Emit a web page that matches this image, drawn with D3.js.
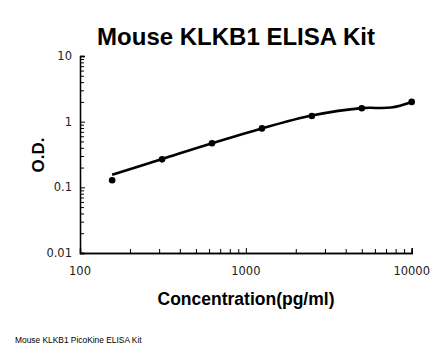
<!DOCTYPE html>
<html>
<head>
<meta charset="utf-8">
<script src="https://cdn.jsdelivr.net/npm/d3@7"></script>
<style>
html,body{margin:0;padding:0;background:#fff;}
svg{display:block;}
</style>
</head>
<body>
<svg id="chart" width="445" height="355"></svg>
<script>
// Data
const concentrations = [156.25, 312.5, 625, 1250, 2500, 5000, 10000];
const odValues = [0.128, 0.267, 0.469, 0.79, 1.22, 1.60, 2.0];
// fitted curve
const fitConc = [156.25, 312.5, 625, 1250, 2500, 5000, 7500, 10000];
const fitOD = [0.155, 0.27, 0.47, 0.79, 1.24, 1.61, 1.64, 2.0];
const xTickValues = [100, 1000, 10000];
const xTickLabels = ["100", "1000", "10000"];
const yTickValues = [0.01, 0.1, 1, 10];
const yTickLabels = ["0.01", "0.1", "1", "10"];

(function () {
const svg = d3.select("#chart");
const mLeft = 80, mRight = 411.7, mTop = 56, mBottom = 253;

const x = d3.scaleLog().domain([100, 10000]).range([mLeft, mRight]);
const y = d3.scaleLog().domain([0.01, 10]).range([mBottom, mTop]);

// minor tick values
const xMinor = [];
[100, 1000].forEach(d => { for (let k = 2; k <= 9; k++) xMinor.push(d * k); });
const yMinor = [];
[0.01, 0.1, 1].forEach(d => { for (let k = 2; k <= 9; k++) yMinor.push(d * k); });

// X axis
const gx = svg.append("g").attr("transform", `translate(0,${mBottom})`);
gx.call(d3.axisBottom(x).tickValues(xMinor).tickSize(-4).tickFormat(""));
gx.call(g => g.append("g").call(d3.axisBottom(x).tickValues(xTickValues).tickSize(-5).tickFormat("")));
gx.selectAll(".domain").attr("stroke", "#000").attr("stroke-width", 1.3);
gx.selectAll(".tick line").attr("stroke", "#000").attr("stroke-width", 1);

// Y axis
const gy = svg.append("g").attr("transform", `translate(${mLeft},0)`);
gy.call(d3.axisLeft(y).tickValues(yMinor).tickSize(-4).tickFormat(""));
gy.call(g => g.append("g").call(d3.axisLeft(y).tickValues(yTickValues).tickSize(-5).tickFormat("")));
gy.selectAll(".domain").attr("stroke", "#000").attr("stroke-width", 1.3);
gy.selectAll(".tick line").attr("stroke", "#000").attr("stroke-width", 1);

// tick labels
svg.append("g").selectAll("text").data(xTickValues).join("text")
  .attr("x", d => x(d)).attr("y", 275)
  .attr("text-anchor", "middle")
  .attr("font-family", "DejaVu Sans, Verdana, sans-serif")
  .attr("font-size", 11.5).attr("fill", "#222")
  .text((d, i) => xTickLabels[i]);

svg.append("g").selectAll("text").data(yTickValues).join("text")
  .attr("x", 72).attr("y", d => y(d) + 4)
  .attr("text-anchor", "end")
  .attr("font-family", "DejaVu Sans, Verdana, sans-serif")
  .attr("font-size", 11.5).attr("fill", "#222")
  .text((d, i) => yTickLabels[i]);

// fitted curve
const line = d3.line()
  .x((d, i) => x(fitConc[i]))
  .y(d => y(d))
  .curve(d3.curveCatmullRom.alpha(0.5));
svg.append("path").datum(fitOD)
  .attr("d", line)
  .attr("fill", "none").attr("stroke", "#000").attr("stroke-width", 2.6);

// points
svg.append("g").selectAll("circle").data(odValues).join("circle")
  .attr("cx", (d, i) => x(concentrations[i]))
  .attr("cy", d => y(d))
  .attr("r", 3.3).attr("fill", "#000");

// titles
svg.append("text").attr("x", 236).attr("y", 45)
  .attr("text-anchor", "middle")
  .attr("font-family", "Liberation Sans, Arial, sans-serif")
  .attr("font-weight", "bold").attr("font-size", 24).attr("fill", "#000")
  .text("Mouse KLKB1 ELISA Kit");

svg.append("text").attr("transform", "translate(44,155) rotate(-90)")
  .attr("text-anchor", "middle")
  .attr("font-family", "Liberation Sans, Arial, sans-serif")
  .attr("font-weight", "bold").attr("font-size", 17).attr("fill", "#000")
  .text("O.D.");

svg.append("text").attr("x", 246).attr("y", 305)
  .attr("text-anchor", "middle")
  .attr("font-family", "Liberation Sans, Arial, sans-serif")
  .attr("font-weight", "bold").attr("font-size", 17.5).attr("fill", "#000")
  .text("Concentration(pg/ml)");

svg.append("text").attr("x", 15).attr("y", 343)
  .attr("font-family", "Liberation Sans, Arial, sans-serif")
  .attr("font-size", 8.4).attr("fill", "#000")
  .text("Mouse KLKB1 PicoKine ELISA Kit");
})();
</script>
</body>
</html>
